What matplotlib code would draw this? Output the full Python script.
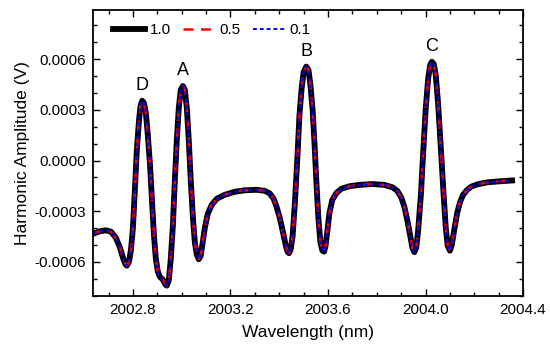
import numpy as np
import matplotlib
matplotlib.use("Agg")
import matplotlib.pyplot as plt
from matplotlib.ticker import MultipleLocator

plt.rcParams['font.family'] = ['Liberation Sans', 'DejaVu Sans']

# wavelength (nm)
wavelength = [
    2002.636, 2002.665, 2002.690, 2002.710, 2002.730, 2002.747, 2002.759, 2002.769,
    2002.775, 2002.784, 2002.792, 2002.800, 2002.808, 2002.816, 2002.825, 2002.831,
    2002.838, 2002.845, 2002.853, 2002.861, 2002.870, 2002.878, 2002.886, 2002.894,
    2002.902, 2002.910, 2002.923, 2002.933, 2002.939, 2002.947, 2002.955, 2002.964,
    2002.972, 2002.980, 2002.988, 2002.996, 2003.005, 2003.013, 2003.021, 2003.029,
    2003.037, 2003.046, 2003.054, 2003.062, 2003.070, 2003.078, 2003.086, 2003.095,
    2003.107, 2003.123, 2003.144, 2003.176, 2003.217, 2003.258, 2003.307, 2003.340,
    2003.361, 2003.377, 2003.389, 2003.401, 2003.414, 2003.426, 2003.434, 2003.440,
    2003.447, 2003.455, 2003.465, 2003.475, 2003.483, 2003.492, 2003.500, 2003.511,
    2003.520, 2003.528, 2003.537, 2003.545, 2003.553, 2003.561, 2003.569, 2003.577,
    2003.584, 2003.590, 2003.598, 2003.606, 2003.618, 2003.635, 2003.655, 2003.688,
    2003.729, 2003.782, 2003.831, 2003.864, 2003.884, 2003.901, 2003.913, 2003.925,
    2003.938, 2003.946, 2003.954, 2003.962, 2003.970, 2003.981, 2003.991, 2004.001,
    2004.011, 2004.019, 2004.026, 2004.034, 2004.042, 2004.052, 2004.062, 2004.073,
    2004.083, 2004.091, 2004.100, 2004.107, 2004.118, 2004.130, 2004.142, 2004.154,
    2004.171, 2004.187, 2004.212, 2004.253, 2004.302, 2004.355,
]

# harmonic amplitude in units of 1e-4 V (the three curves overlap)
amp_e4 = [
    -4.33, -4.18, -4.13, -4.21, -4.57, -5.16, -5.75, -6.13,
    -6.22, -5.98, -5.27, -3.97, -1.73, 0.63, 2.40, 3.23,
    3.54, 3.41, 2.82, 1.52, -0.25, -2.32, -4.39, -5.81,
    -6.57, -6.87, -7.05, -7.34, -7.40, -7.10, -5.86, -3.80,
    -1.14, 1.22, 3.11, 4.18, 4.41, 4.18, 3.11, 1.22,
    -1.14, -3.38, -4.86, -5.57, -5.84, -5.63, -4.86, -3.97,
    -3.15, -2.62, -2.26, -2.03, -1.85, -1.76, -1.73, -1.79,
    -1.94, -2.26, -2.73, -3.33, -4.15, -4.98, -5.39, -5.48,
    -5.27, -4.45, -2.32, 0.34, 2.70, 4.29, 5.24, 5.56,
    5.36, 4.47, 2.99, 0.93, -1.44, -3.50, -4.86, -5.33,
    -5.39, -5.04, -4.09, -3.09, -2.32, -1.91, -1.67, -1.52,
    -1.44, -1.39, -1.44, -1.58, -1.79, -2.20, -2.73, -3.50,
    -4.51, -5.16, -5.42, -5.16, -4.09, -2.03, 0.63, 3.11,
    4.88, 5.65, 5.85, 5.71, 5.06, 3.29, 0.93, -1.73,
    -3.97, -5.04, -5.33, -5.04, -4.09, -3.09, -2.44, -2.03,
    -1.73, -1.55, -1.41, -1.29, -1.23, -1.18,
]

series_labels = ['1.0', '0.5', '0.1']
peak_labels = ['D', 'A', 'B', 'C']
peak_wl = [2002.84, 2003.00, 2003.51, 2004.03]

wl = np.array(wavelength)
amp = np.array(amp_e4) * 1e-4

fig = plt.figure(figsize=(5.5, 3.5), dpi=100)
ax = fig.add_axes([0.169, 0.155, 0.782, 0.816])

ax.plot(wl, amp, color='black', lw=4.2, ls='-', label=series_labels[0])
ax.plot(wl, amp, color='red', lw=1.8, ls=(0, (4, 3)), label=series_labels[1])
ax.plot(wl, amp, color='blue', lw=1.4, ls=(0, (2, 1.5)), label=series_labels[2])

for lab, pw in zip(peak_labels, peak_wl):
    i = np.argmin(np.abs(wl - pw))
    lo, hi = max(i - 4, 0), i + 5
    j = lo + np.argmax(amp[lo:hi])
    ax.annotate(lab, (wl[j], amp[j]), xytext=(0, 5), textcoords='offset points',
                ha='center', va='bottom', fontsize=13)

ax.set_xlim(2002.636, 2004.4)
ax.set_ylim(-0.0008, 0.00089)
ax.xaxis.set_major_locator(MultipleLocator(0.4))
ax.xaxis.set_minor_locator(MultipleLocator(0.1))
ax.yaxis.set_major_locator(MultipleLocator(0.0003))
ax.yaxis.set_minor_locator(MultipleLocator(0.0001))
ax.xaxis.set_major_formatter(plt.FormatStrFormatter('%.1f'))
ax.yaxis.set_major_formatter(plt.FormatStrFormatter('%.4f'))
ax.tick_params(which='both', direction='in', top=True, right=True, labelsize=11, width=1)
ax.tick_params(which='major', length=5, pad=5)
ax.tick_params(which='minor', length=3)
for s in ax.spines.values():
    s.set_linewidth(1.3)

ax.set_xlabel('Wavelength (nm)', fontsize=12.5, labelpad=6)
ax.set_ylabel('Harmonic Amplitude (V)', fontsize=12.5, labelpad=3)

ax.legend(loc='upper left', bbox_to_anchor=(0.047, 0.955), ncol=3, frameon=False,
          fontsize=11, handlelength=2.1, handletextpad=0.3, columnspacing=0.8,
          borderpad=0, borderaxespad=0)

fig.savefig('out.png', dpi=100)
